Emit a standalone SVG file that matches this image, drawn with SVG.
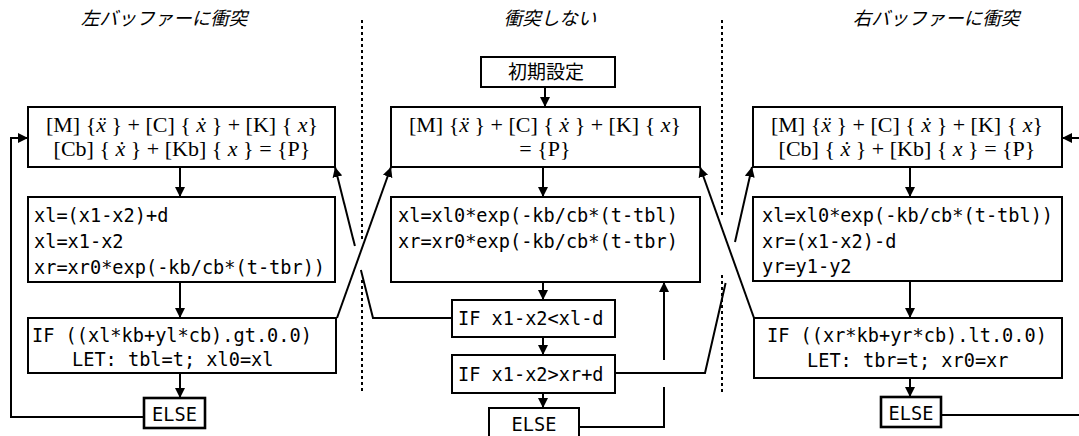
<svg xmlns="http://www.w3.org/2000/svg" width="1079" height="436" viewBox="0 0 1079 436">
<defs>
<marker id="ah" markerUnits="userSpaceOnUse" markerWidth="10" markerHeight="10" refX="10" refY="5" orient="auto">
<path d="M0,0 L10,5 L0,10 z" fill="#000"/>
</marker>
<style>
.box{fill:#fff;stroke:#000;stroke-width:2}
.ebox{fill:#fff;stroke:#000;stroke-width:2.6}
.eq{font-family:"Liberation Serif","Times New Roman",serif;font-size:22px;fill:#000}
.i{font-style:italic}
.mono{font-family:"DejaVu Sans Mono","Liberation Mono",monospace;font-size:18.6px;fill:#000}
.ttl{font-family:"Liberation Serif","Noto Sans CJK JP",serif;font-size:18.5px;font-style:italic;fill:#000}
.jp{font-family:"Noto Sans CJK JP",sans-serif;font-size:19px;fill:#000}
.ln{fill:none;stroke:#000;stroke-width:2}
.dot{fill:none;stroke:#000;stroke-width:2;stroke-dasharray:3,3}
</style>
</defs>
<rect width="1079" height="436" fill="#fff"/>

<g id="dividers">
<path class="dot" d="M362,20 V240 M362,280 V392"/>
<path class="dot" d="M722,20 V218 M722,275 V392"/>
</g>

<g id="titles">
<text class="ttl" x="164" y="25" text-anchor="middle">左バッファーに衝突</text>
<text class="ttl" x="550" y="25" text-anchor="middle">衝突しない</text>
<text class="ttl" x="936" y="25" text-anchor="middle">右バッファーに衝突</text>
</g>

<g id="connectors">
<line class="ln" x1="180" y1="167" x2="180" y2="197" marker-end="url(#ah)"/>
<line class="ln" x1="180" y1="282" x2="180" y2="318" marker-end="url(#ah)"/>
<line class="ln" x1="180" y1="373" x2="180" y2="398" marker-end="url(#ah)"/>
<polyline class="ln" points="144,417 11,417 11,138 28,138" marker-end="url(#ah)"/>
<line class="ln" x1="337" y1="318" x2="391" y2="167" marker-end="url(#ah)"/>
<polyline class="ln" points="452,318 373,318 360.9,270"/>
<line class="ln" x1="354.9" y1="246" x2="335" y2="167" marker-end="url(#ah)"/>

<line class="ln" x1="545" y1="87" x2="545" y2="107" marker-end="url(#ah)"/>
<line class="ln" x1="543" y1="167" x2="543" y2="197" marker-end="url(#ah)"/>
<line class="ln" x1="543" y1="282" x2="543" y2="300" marker-end="url(#ah)"/>
<line class="ln" x1="543" y1="337" x2="543" y2="355" marker-end="url(#ah)"/>
<line class="ln" x1="543" y1="393" x2="543" y2="408" marker-end="url(#ah)"/>
<polyline class="ln" points="579,427 664,427 664,387"/>
<line class="ln" x1="664" y1="360" x2="664" y2="282" marker-end="url(#ah)"/>
<polyline class="ln" points="615,373 705,373 725.6,283"/>
<line class="ln" x1="735" y1="242" x2="752" y2="167" marker-end="url(#ah)"/>
<line class="ln" x1="754" y1="318" x2="700" y2="167" marker-end="url(#ah)"/>

<line class="ln" x1="910" y1="167" x2="910" y2="197" marker-end="url(#ah)"/>
<line class="ln" x1="910" y1="281" x2="910" y2="318" marker-end="url(#ah)"/>
<line class="ln" x1="910" y1="378" x2="910" y2="397" marker-end="url(#ah)"/>
<line class="ln" x1="941" y1="415" x2="1079" y2="415"/>
<line class="ln" x1="1079" y1="138" x2="1062" y2="138" marker-end="url(#ah)"/>
</g>

<g id="L-eq">
<rect class="box" x="28" y="107" width="307" height="60"/>
<text class="eq" x="182" y="132" text-anchor="middle">[M] {<tspan class="i">ẍ</tspan> } + [C] { <tspan class="i">ẋ</tspan> } + [K] { <tspan class="i">x</tspan>}</text>
<text class="eq" x="182" y="156" text-anchor="middle">[Cb] { <tspan class="i">ẋ</tspan> } + [Kb] { <tspan class="i">x</tspan> } = {P}</text>
</g>
<g id="L-calc">
<rect class="box" x="28" y="197" width="307" height="85"/>
<text class="mono" x="34" y="222">xl=(x1-x2)+d</text>
<text class="mono" x="34" y="248">xl=x1-x2</text>
<text class="mono" x="34" y="274">xr=xr0*exp(-kb/cb*(t-tbr))</text>
</g>
<g id="L-if">
<rect class="box" x="28" y="318" width="308" height="55"/>
<text class="mono" x="32" y="342">IF ((xl*kb+yl*cb).gt.0.0)</text>
<text class="mono" x="72" y="366">LET: tbl=t; xl0=xl</text>
</g>
<g id="L-else">
<rect class="ebox" x="144" y="398" width="61" height="30"/>
<text class="mono" x="174.5" y="421" text-anchor="middle">ELSE</text>
</g>

<g id="C-init">
<rect class="box" x="481" y="57" width="134" height="30"/>
<text class="jp" x="546" y="79" text-anchor="middle">初期設定</text>
</g>
<g id="C-eq">
<rect class="box" x="391" y="107" width="309" height="60"/>
<text class="eq" x="545" y="132" text-anchor="middle">[M] {<tspan class="i">ẍ</tspan> } + [C] { <tspan class="i">ẋ</tspan> } + [K] { <tspan class="i">x</tspan>}</text>
<text class="eq" x="545" y="156" text-anchor="middle">= {P}</text>
</g>
<g id="C-calc">
<rect class="box" x="391" y="197" width="309" height="85"/>
<text class="mono" x="398" y="222">xl=xl0*exp(-kb/cb*(t-tbl)</text>
<text class="mono" x="398" y="248">xr=xr0*exp(-kb/cb*(t-tbr)</text>
</g>
<g id="C-if1">
<rect class="box" x="452" y="300" width="163" height="37"/>
<text class="mono" x="458" y="325">IF x1-x2&lt;xl-d</text>
</g>
<g id="C-if2">
<rect class="box" x="452" y="355" width="163" height="38"/>
<text class="mono" x="458" y="381">IF x1-x2&gt;xr+d</text>
</g>
<g id="C-else">
<rect class="box" x="489" y="408" width="90" height="34"/>
<text class="mono" x="534" y="431" text-anchor="middle">ELSE</text>
</g>

<g id="R-eq">
<rect class="box" x="753" y="107" width="309" height="60"/>
<text class="eq" x="907" y="132" text-anchor="middle">[M] {<tspan class="i">ẍ</tspan> } + [C] { <tspan class="i">ẋ</tspan> } + [K] { <tspan class="i">x</tspan>}</text>
<text class="eq" x="907" y="156" text-anchor="middle">[Cb] { <tspan class="i">ẋ</tspan> } + [Kb] { <tspan class="i">x</tspan> } = {P}</text>
</g>
<g id="R-calc">
<rect class="box" x="753" y="197" width="309" height="84"/>
<text class="mono" x="762" y="222">xl=xl0*exp(-kb/cb*(t-tbl))</text>
<text class="mono" x="762" y="248">xr=(x1-x2)-d</text>
<text class="mono" x="762" y="273">yr=y1-y2</text>
</g>
<g id="R-if">
<rect class="box" x="754" y="318" width="308" height="60"/>
<text class="mono" x="767" y="342">IF ((xr*kb+yr*cb).lt.0.0)</text>
<text class="mono" x="807" y="367">LET: tbr=t; xr0=xr</text>
</g>
<g id="R-else">
<rect class="ebox" x="881" y="397" width="60" height="30"/>
<text class="mono" x="911" y="420" text-anchor="middle">ELSE</text>
</g>
</svg>
